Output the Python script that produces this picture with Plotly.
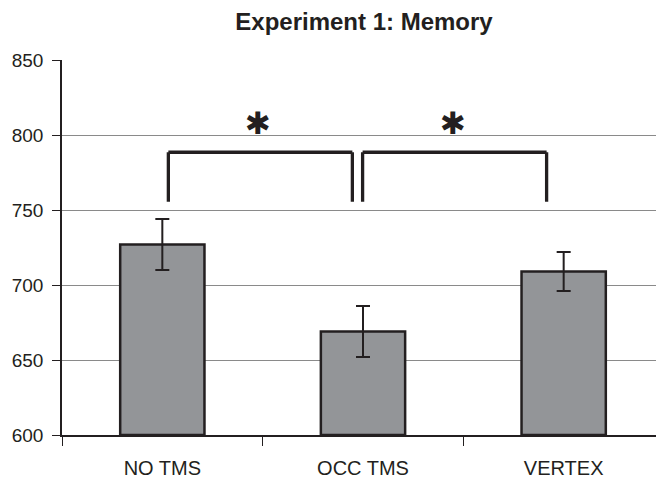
import plotly.graph_objects as go

categories = ["NO TMS", "OCC TMS", "VERTEX"]
means = [727, 669, 709]
errors = [17, 17, 13]
y_ticks = [600, 650, 700, 750, 800, 850]

# significance brackets: (x_start, x_end, y_top, y_leg_bottom)
brackets = [(0.03, 0.947, 788.5, 755.5), (0.998, 1.915, 788.5, 755.5)]
star_x = [0.477, 1.446]
star_y = 808

INK = "#231f20"
FONT = "Liberation Sans, Arial, Helvetica"

fig = go.Figure()
fig.add_trace(go.Bar(
    x=categories, y=[m - 600 for m in means], base=600,
    width=0.42,
    marker=dict(color="#939598", line=dict(color=INK, width=2.5)),
    error_y=dict(type="data", array=errors, color=INK, thickness=2, width=7),
    hoverinfo="skip",
))

shapes = []
for x0, x1, yt, yb in brackets:
    for (a, b, c, d) in [(x0, yb, x0, yt), (x0, yt, x1, yt), (x1, yt, x1, yb)]:
        shapes.append(dict(type="line", xref="x", yref="y", x0=a, y0=b, x1=c, y1=d,
                           line=dict(color=INK, width=3.3)))

annotations = []
for sx in star_x:
    annotations.append(dict(x=sx, y=star_y, xref="x", yref="y", text="✱",
                            showarrow=False,
                            font=dict(size=31, color=INK, family="DejaVu Sans"),
                            xanchor="center", yanchor="middle"))

# page body has an 8px margin, so the figure is slightly smaller than the window
fig.update_layout(
    width=656, height=473,
    margin=dict(l=54, r=0, t=52, b=46),
    paper_bgcolor="white", plot_bgcolor="white",
    showlegend=False,
    title=dict(text="<b>Experiment 1: Memory</b>", x=0.5017, xref="paper",
               xanchor="center", y=0.972, yanchor="middle",
               font=dict(family=FONT, size=24, color=INK)),
    shapes=shapes,
    annotations=annotations,
    xaxis=dict(type="category", range=[-0.5, 2.5], tickson="boundaries",
               ticks="outside", ticklen=9, tickcolor=INK, tickwidth=1.3,
               ticklabelstandoff=14,
               showline=True, linecolor=INK, linewidth=1.5,
               showgrid=False, fixedrange=True,
               tickfont=dict(family=FONT, size=20, color=INK)),
    yaxis=dict(range=[600, 850], tickvals=y_ticks, ticks="outside", ticklen=8,
               tickcolor=INK, tickwidth=1.3, ticklabelstandoff=5,
               showline=True, linecolor=INK, linewidth=1.5,
               showgrid=True, gridcolor="#8a8a8a", gridwidth=1.3,
               zeroline=False, fixedrange=True,
               tickfont=dict(family=FONT, size=19, color=INK)),
)

fig.write_html("out.html")
